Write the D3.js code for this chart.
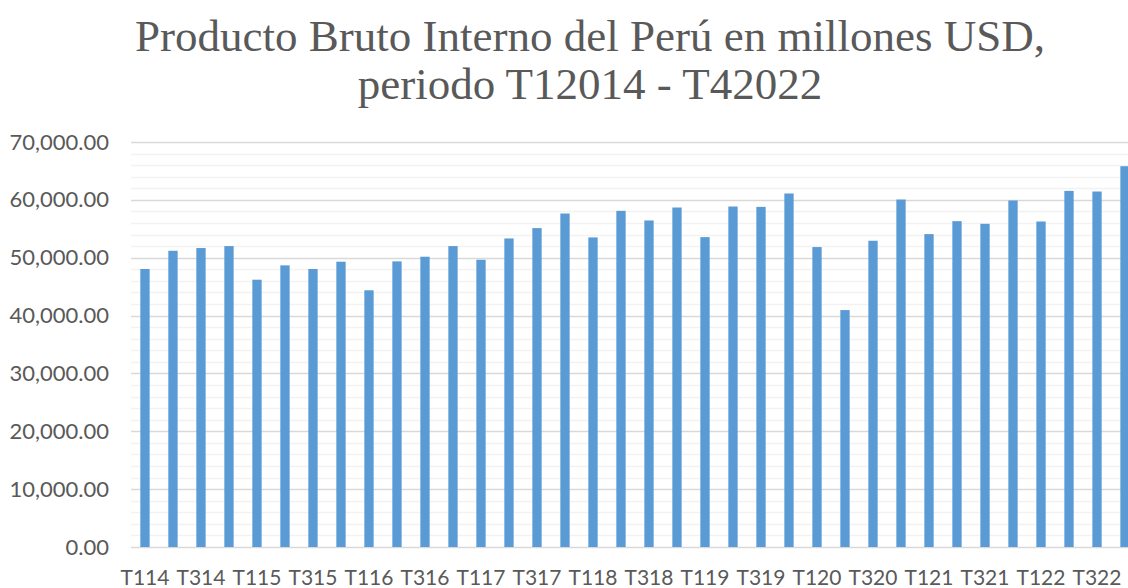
<!DOCTYPE html>
<html>
<head>
<meta charset="utf-8">
<script src="https://cdn.jsdelivr.net/npm/d3@7"></script>
<style>
  body { margin: 0; background: #fff; }
  svg { display: block; }
</style>
</head>
<body>
<div id="chart"></div>
<script>
const width = 1128;
const height = 588;
const margin = { top: 142, right: -11, bottom: 41, left: 131 };

const titleLines = ["Producto Bruto Interno del Perú en millones USD,", "periodo T12014 - T42022"];

// quarters T114 ... T422
const quarters = [
  "T114", "T214", "T314", "T414",
  "T115", "T215", "T315", "T415",
  "T116", "T216", "T316", "T416",
  "T117", "T217", "T317", "T417",
  "T118", "T218", "T318", "T418",
  "T119", "T219", "T319", "T419",
  "T120", "T220", "T320", "T420",
  "T121", "T221", "T321", "T421",
  "T122", "T222", "T322", "T422"
];
const gdp = [
  48050, 51200, 51670, 52010,
  46200, 48680, 48050, 49310,
  44370, 49370, 50170, 52010,
  49650, 53330, 55120, 57640,
  53510, 58100, 56440, 58680,
  53560, 58850, 58790, 61100,
  51840, 40950, 52930, 60060,
  54080, 56320, 55860, 59890,
  56260, 61550, 61440, 65820
];
const yTicks = [0, 10000, 20000, 30000, 40000, 50000, 60000, 70000];

const svg = d3.select("#chart")
  .append("svg")
  .attr("width", width)
  .attr("height", height);

const plotW = width - margin.left - margin.right;
const plotH = height - margin.top - margin.bottom;

const x = d3.scaleBand()
  .domain(quarters)
  .range([margin.left, margin.left + plotW])
  .paddingInner(0.667)
  .paddingOuter(0.333);

const y = d3.scaleLinear()
  .domain([0, 70000])
  .range([margin.top + plotH, margin.top]);

// title
svg.append("text")
  .attr("x", 590)
  .attr("text-anchor", "middle")
  .style("font-family", "'Liberation Serif', 'Times New Roman', serif")
  .style("font-size", "45px")
  .attr("fill", "#595959")
  .selectAll("tspan")
  .data(titleLines)
  .join("tspan")
  .attr("x", 590)
  .attr("y", (d, i) => 51 + i * 48)
  .text(d => d);

// minor gridlines every 2,000
svg.append("g")
  .selectAll("line")
  .data(d3.range(2000, 70000, 2000).filter(v => v % 10000 !== 0))
  .join("line")
  .attr("x1", margin.left)
  .attr("x2", width)
  .attr("y1", d => Math.round(y(d)) + 0.5)
  .attr("y2", d => Math.round(y(d)) + 0.5)
  .attr("stroke", "#f2f2f2")
  .attr("stroke-width", 1.5);

// major gridlines
svg.append("g")
  .selectAll("line")
  .data(yTicks)
  .join("line")
  .attr("x1", margin.left)
  .attr("x2", width)
  .attr("y1", d => Math.round(y(d)) + 0.5)
  .attr("y2", d => Math.round(y(d)) + 0.5)
  .attr("stroke", "#d9d9d9")
  .attr("stroke-width", 1.5);

// bars
svg.append("g")
  .selectAll("rect")
  .data(gdp)
  .join("rect")
  .attr("x", (d, i) => x(quarters[i]))
  .attr("y", d => y(d))
  .attr("width", x.bandwidth())
  .attr("height", d => y(0) - y(d))
  .attr("fill", "#5b9bd5");

// y axis labels
const yAxis = d3.axisLeft(y)
  .tickValues(yTicks)
  .tickFormat(d3.format(",.2f"))
  .tickSize(0)
  .tickPadding(22);
const gy = svg.append("g")
  .attr("transform", `translate(${margin.left},0)`)
  .call(yAxis);
gy.select(".domain").remove();
gy.selectAll("text")
  .attr("fill", "#595959")
  .style("font-family", "Lato, 'Open Sans', sans-serif")
  .style("font-size", "22px");

// x axis labels, every other quarter
const xAxis = d3.axisBottom(x)
  .tickValues(quarters.filter((q, i) => i % 2 === 0))
  .tickSize(0)
  .tickPadding(23);
const gx = svg.append("g")
  .attr("transform", `translate(0,${y(0)})`)
  .call(xAxis);
gx.select(".domain").remove();
gx.selectAll("text")
  .attr("fill", "#595959")
  .style("font-family", "Lato, 'Open Sans', sans-serif")
  .style("font-size", "21px");
</script>
</body>
</html>
